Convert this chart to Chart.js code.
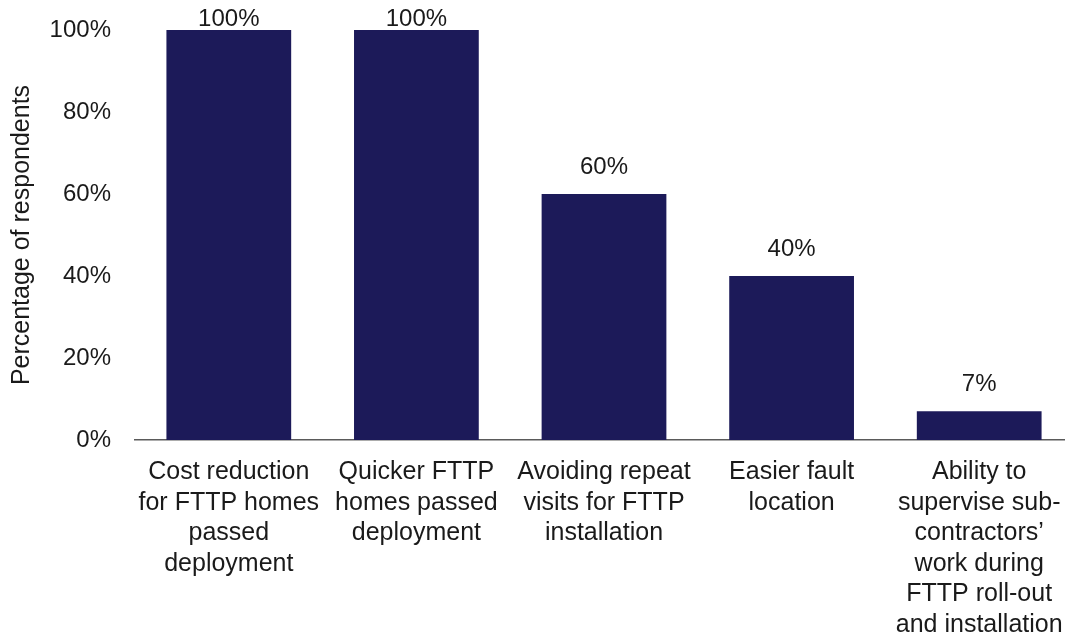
<!DOCTYPE html>
<html>
<head>
<meta charset="utf-8">
<script src="https://cdn.jsdelivr.net/npm/chart.js"></script>
<style>
  html, body { margin: 0; padding: 0; background: #ffffff; overflow: hidden; }
  .chart-box { position: relative; width: 1073px; height: 636px; }
</style>
</head>
<body>
<div class="chart-box"><canvas id="chart"></canvas></div>
<script>
// Benefits reported by respondents
const categories = [
  ["Cost reduction", "for FTTP homes", "passed", "deployment"],
  ["Quicker FTTP", "homes passed", "deployment"],
  ["Avoiding repeat", "visits for FTTP", "installation"],
  ["Easier fault", "location"],
  ["Ability to", "supervise sub-", "contractors’", "work during", "FTTP roll-out", "and installation"]
];
const shares = [100, 100, 60, 40, 7];
const yTicks = [0, 20, 40, 60, 80, 100];

const FONT = "'Liberation Sans', Arial, sans-serif";
const NAVY = "#1c1a59";

// value labels above each bar, kept inside the canvas at the top
const valueLabels = {
  id: "valueLabels",
  afterDatasetsDraw(chart) {
    const ctx = chart.ctx;
    const meta = chart.getDatasetMeta(0);
    ctx.save();
    ctx.font = "24px " + FONT;
    ctx.fillStyle = "#1a1a1a";
    ctx.textAlign = "center";
    ctx.textBaseline = "middle";
    meta.data.forEach((bar, i) => {
      const y = Math.max(bar.y - 27, 19);
      ctx.fillText(shares[i] + "%", bar.x, y);
    });
    ctx.restore();
  }
};

new Chart(document.getElementById("chart"), {
  type: "bar",
  data: {
    labels: categories,
    datasets: [{
      data: shares,
      backgroundColor: NAVY,
      borderWidth: 0,
      categoryPercentage: 1,
      barPercentage: 0.665
    }]
  },
  options: {
    responsive: true,
    maintainAspectRatio: false,
    animation: false,
    layout: { padding: { top: 30, right: 0, bottom: 0, left: 0 } },
    plugins: {
      legend: { display: false },
      tooltip: { enabled: false }
    },
    scales: {
      x: {
        afterFit: (scale) => {
          scale.height = 196;
          scale.paddingLeft = 0;
          scale.paddingRight = 0;
        },
        grid: { display: false, drawTicks: false },
        border: { display: true, color: "#5a5a5a", width: 1.5 },
        ticks: {
          color: "#1a1a1a",
          font: { family: FONT, size: 25, lineHeight: 1.22 },
          padding: 17,
          maxRotation: 0,
          autoSkip: false
        }
      },
      y: {
        min: 0,
        max: 100,
        afterBuildTicks: (scale) => { scale.ticks = yTicks.map(v => ({ value: v })); },
        afterFit: (scale) => {
          scale.width = 135;
          scale.paddingTop = 0;
          scale.paddingBottom = 0;
        },
        grid: { display: false, drawTicks: false },
        border: { display: false },
        ticks: {
          color: "#1a1a1a",
          font: { family: FONT, size: 24 },
          padding: 24,
          callback: (v) => v + "%"
        },
        title: {
          display: true,
          text: "Percentage of respondents",
          color: "#1a1a1a",
          font: { family: FONT, size: 25 },
          padding: { top: 7, bottom: 0 }
        }
      }
    }
  },
  plugins: [valueLabels]
});
</script>
</body>
</html>
